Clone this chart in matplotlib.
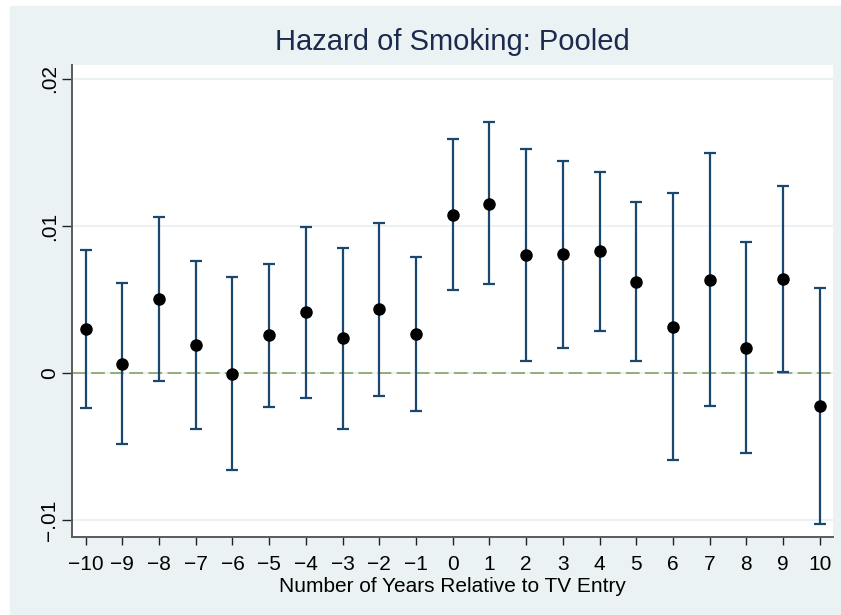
import matplotlib
matplotlib.use("Agg")
import matplotlib.pyplot as plt
from matplotlib.patches import Rectangle

# ── Data ────────────────────────────────────────────────────────────────
years = [-10, -9, -8, -7, -6, -5, -4, -3, -2, -1, 0, 1, 2, 3, 4, 5, 6, 7, 8, 9, 10]
coef = [0.00299, 0.00063, 0.00503, 0.00190, -0.00007, 0.00256, 0.00413, 0.00236,
        0.00433, 0.00263, 0.01077, 0.01152, 0.00800, 0.00810, 0.00828, 0.00621,
        0.00313, 0.00635, 0.00170, 0.00639, -0.00224]
ci_low = [-0.00240, -0.00483, -0.00052, -0.00380, -0.00660, -0.00229, -0.00168,
          -0.00379, -0.00154, -0.00260, 0.00562, 0.00603, 0.00080, 0.00172,
          0.00288, 0.00082, -0.00594, -0.00222, -0.00544, 0.00007, -0.01025]
ci_high = [0.00839, 0.00610, 0.01061, 0.00760, 0.00650, 0.00744, 0.00995, 0.00848,
           0.01020, 0.00787, 0.01592, 0.01705, 0.01524, 0.01445, 0.01370, 0.01165,
           0.01222, 0.01497, 0.00889, 0.01274, 0.00576]
y_ticks = [-0.01, 0, 0.01, 0.02]
y_ticklabels = ["\u2212.01", "0", ".01", ".02"]

# ── Style ───────────────────────────────────────────────────────────────
BG = "#EAF2F3"
NAVY = "#1A476F"
plt.rcParams["font.family"] = ["Liberation Sans", "DejaVu Sans"]

fig = plt.figure(figsize=(8.41, 6.15), dpi=100, facecolor="white")
# graph region (reference is cropped: thin white strip on left/top)
fig.patches.append(Rectangle((10 / 841, 0), 1 - 10 / 841, 1 - 6 / 615,
                             transform=fig.transFigure, color=BG, zorder=-10))

ax = fig.add_axes([72 / 841, 1 - 537 / 615, (833 - 72) / 841, (537 - 65) / 615])
ax.set_facecolor("white")

for t in y_ticks:
    ax.axhline(t, color=BG, lw=1.5, zorder=1)
ax.axhline(0, color="#7B9A5B", lw=1.1, linestyle=(0, (9, 3.5)), zorder=2)

err_lo = [c - lo for c, lo in zip(coef, ci_low)]
err_hi = [hi - c for c, hi in zip(coef, ci_high)]
ax.errorbar(years, coef, yerr=[err_lo, err_hi], fmt="none", ecolor=NAVY,
            elinewidth=1.6, capsize=4, capthick=1.6, zorder=3)
ax.plot(years, coef, "o", color="black", markersize=8, zorder=4)

ax.set_xlim(-10.373, 10.362)
ax.set_ylim(-0.01116, 0.02095)
ax.set_xticks(years)
ax.set_xticklabels([str(y).replace("-", "\u2212") for y in years], fontsize=15)
ax.set_yticks(y_ticks)
ax.set_yticklabels(y_ticklabels, fontsize=15, rotation=90, va="center")
ax.tick_params(direction="out", length=6, width=1, color="#222222")
ax.tick_params(axis="x", length=6, pad=7)
ax.tick_params(axis="y", length=7, pad=2)

for s in ["top", "right"]:
    ax.spines[s].set_visible(False)
for s in ["left", "bottom"]:
    ax.spines[s].set_color("#5A5A5A")
    ax.spines[s].set_linewidth(1.4)

ax.set_xlabel("Number of Years Relative to TV Entry", fontsize=15, labelpad=2)
fig.text((72 + 833) / 2 / 841, 1 - 42 / 615, "Hazard of Smoking: Pooled",
         ha="center", va="center", fontsize=21, color="#1C2A4E")

fig.savefig("out.png", dpi=100, facecolor=fig.get_facecolor())
